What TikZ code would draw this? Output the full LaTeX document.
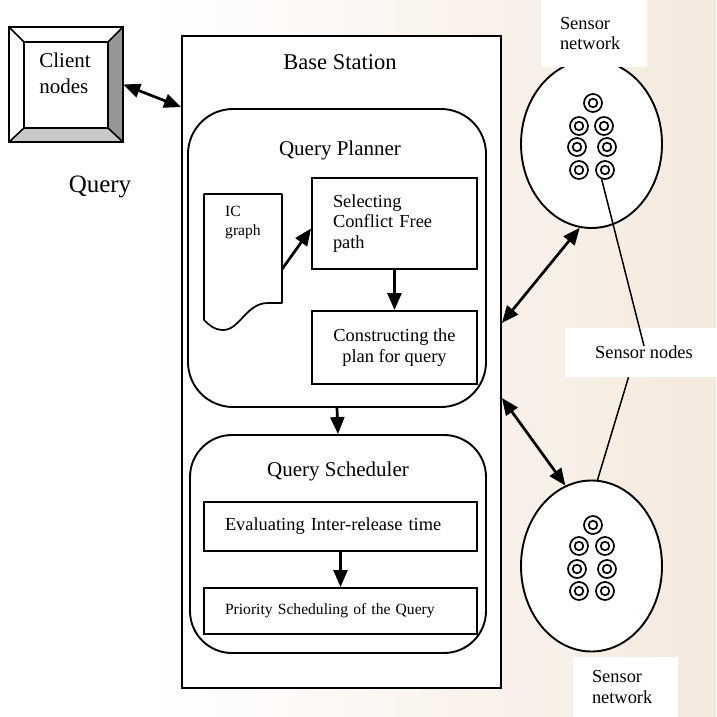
\documentclass[tikz,border=0pt]{standalone}
\usepackage{fontspec}
\setmainfont{Liberation Serif}
\usetikzlibrary{arrows.meta,shapes.geometric,calc}
\definecolor{beigeC}{RGB}{245,233,221}
\definecolor{bevR}{RGB}{150,150,150}
\definecolor{bevB}{RGB}{200,200,200}
\begin{document}
\begin{tikzpicture}[x=1pt,y=-1pt,
  box/.style={draw, line width=1.9pt, fill=white, inner sep=0pt},
  rbox/.style={box, rounded corners=#1},
  lbl/.style={fill=white, inner sep=0pt, align=left},
  arr/.style={line width=2.7pt, -{Triangle[length=17pt,width=14pt]}},
  darr/.style={line width=2.7pt, {Triangle[length=17pt,width=14pt]}-{Triangle[length=17pt,width=14pt]}},
  thin/.style={line width=1.5pt},
  sring/.style={circle, draw, line width=1.7pt, minimum size=18pt, inner sep=0pt,
    path picture={\draw[line width=1.7pt] (path picture bounding box.center) circle (4.3pt);}},
  f16/.style={font=\fontsize{15.6}{19}\selectfont},
  f18/.style={font=\fontsize{18.4}{20.5}\selectfont},
  f21/.style={font=\fontsize{21}{26}\selectfont},
]
\useasboundingbox (0,0) rectangle (716,717);
% faint background watermark
\shade[left color=white, right color=beigeC] (150,0) rectangle (716,717);

% client nodes (bevelled box)
\node[inner sep=0pt, minimum width=114pt, minimum height=115pt] (cl) at (66,84.5) {};
\fill[white] (9,27) -- (123,27) -- (108,42) -- (24,42) -- (24,128) -- (9,142) -- cycle;
\fill[bevR] (123,27) -- (123,142) -- (108,128) -- (108,42) -- cycle;
\fill[bevB] (9,142) -- (123,142) -- (108,128) -- (24,128) -- cycle;
\fill[white] (24,42) rectangle (108,128);
\draw[line width=1.9pt, line join=miter] (9,27) rectangle (123,142);
\draw[line width=1.6pt] (24,42) rectangle (108,128);
\draw[line width=1.6pt] (9,27) -- (24,42) (123,27) -- (108,42) (123,142) -- (108,128) (9,142) -- (24,128);
\node[f21, align=left, inner sep=0pt] (clt) at (65,73) {Client\\nodes};

\node[font=\fontsize{25}{28}\selectfont, inner sep=0pt] (qry) at (100,187) {Query};

% base station
\node[box, minimum width=319pt, minimum height=652pt] (bs) at (341.5,362) {};
\node[font=\fontsize{22.5}{26}\selectfont, inner sep=0pt] (bst) at (340,62) {Base Station};

% query planner
\node[rbox=45pt, minimum width=298pt, minimum height=298pt] (pl) at (337,258) {};
\node[f21, inner sep=0pt] (plt) at (340,150) {Query Planner};

% IC graph document
\node[inner sep=0pt, minimum width=78pt, minimum height=126pt] (ic) at (243,257) {};
\draw[line width=1.7pt, fill=white, line join=round] (204,194) -- (282,194) -- (282,303) -- (268,303)
  .. controls (246,303) and (240,330) .. (223,330)
  .. controls (214,330) and (208,324) .. (204,320) -- cycle;
\node[f16, align=left, inner sep=0pt, anchor=north west] (ict) at (225,206) {IC\\graph};

\node[box, f18, align=left, text width=123pt, inner xsep=21pt, minimum height=91pt] (sel) at (394.5,223.5) {Selecting\\Conflict Free\\path};
\node[box, f18, align=center, minimum width=165pt, minimum height=73pt] (con) at (394.5,347.5) {Constructing the\\plan for query};

% query scheduler
\node[rbox=42pt, minimum width=296pt, minimum height=218pt] (sc) at (338,544) {};
\node[f21, inner sep=0pt] (sct) at (338,471) {Query Scheduler};
\node[box, f18, align=left, text width=231pt, inner xsep=21pt, minimum height=49pt] (ev) at (340.5,526.5) {Evaluating Inter-release time};
\node[box, f16, align=left, text width=231pt, inner xsep=21pt, minimum height=46pt] (pr) at (340.5,611) {Priority Scheduling of the Query};

% sensor networks
\node[ellipse, draw, line width=1.9pt, fill=white, minimum width=141pt, minimum height=168pt, inner sep=0pt] (sn1) at (591.5,144) {};
\node[ellipse, draw, line width=1.9pt, fill=white, minimum width=141pt, minimum height=171pt, inner sep=0pt] (sn2) at (591.5,566) {};

\node[sring] (s11) at (593,103) {};
\node[sring] (s12) at (579,126) {};
\node[sring] (s13) at (604,126) {};
\node[sring] (s14) at (577,147) {};
\node[sring] (s15) at (607,147) {};
\node[sring] (s16) at (579,170) {};
\node[sring] (s17) at (605,170) {};

\node[sring] (s21) at (593,525) {};
\node[sring] (s22) at (579,546) {};
\node[sring] (s23) at (605,546) {};
\node[sring] (s24) at (577,569) {};
\node[sring] (s25) at (607,569) {};
\node[sring] (s26) at (579,591) {};
\node[sring] (s27) at (605,591) {};

% labels with white backgrounds
\node[lbl, f18, text width=68pt, inner xsep=19pt, minimum height=67pt] (snt) at (594,33.5) {Sensor\\network};
\node[lbl, f18, text width=67pt, inner xsep=19pt, minimum height=60pt] (snb) at (625.5,687) {Sensor\\network};
\node[fill=white, inner sep=0pt, minimum width=151pt, minimum height=49pt] (snl) at (640.5,352.5) {};
\node[f18, inner sep=0pt] (snlt) at (644,352) {Sensor nodes};

% connectors
\draw[darr] (cl.east) -- ([yshift=-72pt]bs.north west);
\draw[arr] ([yshift=-12pt]ic.east) -- ([yshift=-5pt]sel.west);
\draw[arr] (sel.south) -- (con.north);
\draw[arr] (pl.south) -- (sc.north);
\draw[arr] (ev.south) -- (pr.north);
\draw[darr] ([yshift=39pt]bs.east) -- (sn1.262);
\draw[darr] ([yshift=-36pt]bs.east) -- (sn2.108);
\draw[thin] (s17.250) -- ([yshift=6pt]snlt.center);
\draw[thin] ([xshift=-12pt]snl.south) -- (sn2.86);
\end{tikzpicture}
\end{document}
